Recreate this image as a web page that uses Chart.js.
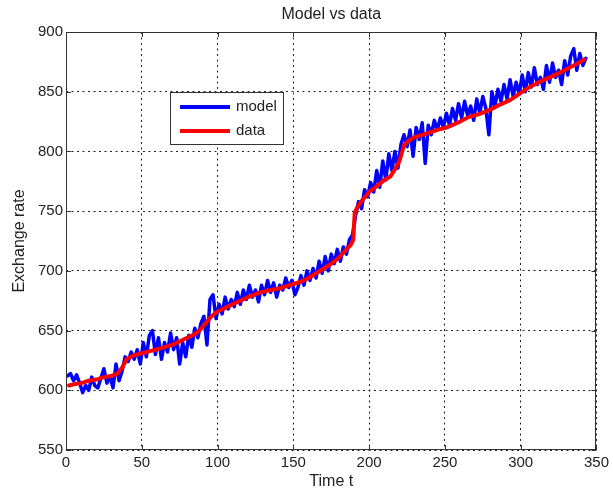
<!DOCTYPE html>
<html>
<head>
<meta charset="utf-8">
<script src="https://cdn.jsdelivr.net/npm/chart.js@4"></script>
<style>
  html, body { margin: 0; padding: 0; background: #fff; }
  #wrap { width: 613px; height: 495px; }
</style>
</head>
<body>
<div id="wrap"><canvas id="myChart" width="613" height="495"></canvas></div>
<script>
const TITLE = 'Model vs data';
const X_LABEL = 'Time t';
const Y_LABEL = 'Exchange rate';
const xTicks = [0, 50, 100, 150, 200, 250, 300, 350];
const yTicks = [550, 600, 650, 700, 750, 800, 850, 900];
const seriesNames = ['model', 'data'];

// model output, every 2 time steps
const tModel = [1, 3, 5, 7, 9, 11, 13, 15, 17, 19, 21, 23, 25, 27, 29, 31, 33, 35, 37, 39,
  41, 43, 45, 47, 49, 51, 53, 55, 57, 59, 61, 63, 65, 67, 69, 71, 73, 75, 77, 79,
  81, 83, 85, 87, 89, 91, 93, 95, 97, 99, 101, 103, 105, 107, 109, 111, 113, 115, 117, 119,
  121, 123, 125, 127, 129, 131, 133, 135, 137, 139, 141, 143, 145, 147, 149, 151, 153, 155, 157, 159,
  161, 163, 165, 167, 169, 171, 173, 175, 177, 179, 181, 183, 185, 187, 189, 191, 193, 195, 197, 199,
  201, 203, 205, 207, 209, 211, 213, 215, 217, 219, 221, 223, 225, 227, 229, 231, 233, 235, 237, 239,
  241, 243, 245, 247, 249, 251, 253, 255, 257, 259, 261, 263, 265, 267, 269, 271, 273, 275, 277, 279,
  281, 283, 285, 287, 289, 291, 293, 295, 297, 299, 301, 303, 305, 307, 309, 311, 313, 315, 317, 319,
  321, 323, 325, 327, 329, 331, 333, 335, 337, 339, 341, 343];
const modelValues = [612, 614, 608, 613, 606, 598, 604, 600, 611, 604, 602, 610, 618, 606, 612, 602, 622, 608, 616, 628,
  624, 632, 626, 634, 622, 640, 628, 646, 650, 630, 644, 626, 640, 632, 648, 634, 644, 622, 640, 628,
  646, 636, 652, 644, 656, 662, 638, 676, 680, 660, 672, 664, 678, 668, 676, 670, 682, 672, 684, 676,
  688, 678, 684, 674, 688, 680, 692, 682, 690, 678, 688, 684, 694, 686, 692, 680, 686, 696, 688, 700,
  692, 702, 694, 708, 698, 712, 700, 714, 706, 718, 708, 720, 714, 726, 730, 746, 758, 752, 768, 762,
  774, 766, 784, 770, 792, 776, 798, 784, 800, 786, 806, 814, 804, 818, 796, 820, 810, 824, 790, 822,
  814, 826, 818, 828, 820, 832, 822, 836, 826, 840, 828, 842, 830, 838, 826, 844, 832, 846, 836, 814,
  850, 838, 852, 842, 856, 844, 860, 846, 858, 848, 864, 850, 866, 854, 870, 856, 862, 852, 872, 858,
  874, 862, 868, 856, 876, 864, 880, 886, 868, 882, 872, 878];

// observed exchange rate
const tData = [2, 5, 10, 15, 20, 25, 30, 34, 37, 40, 44, 50, 56, 62, 70, 75, 80, 85, 88, 92,
  96, 100, 105, 110, 115, 120, 128, 135, 140, 145, 150, 155, 160, 165, 170, 175, 180, 185, 188, 189.5,
  190.5, 193, 196, 200, 205, 210, 214, 217, 220, 223, 226, 230, 238, 245, 251, 260, 266, 272, 280, 286,
  293, 300, 306, 312, 319, 326, 332, 338, 342];
const dataValues = [604, 605, 606, 608, 609, 611, 612, 614, 619, 626, 629, 631, 633, 635, 638, 641, 644, 647, 650, 656,
  662, 666, 669, 672, 675, 678, 682, 684, 685, 687, 689, 691, 694, 698, 702, 706, 711, 718, 722, 726,
  749, 755, 760, 766, 771, 776, 779, 785, 792, 805, 809, 812, 815, 818, 820, 825, 829, 831, 835, 839,
  843, 849, 854, 858, 862, 866, 870, 874, 877];

const colors = ['#0000ff', '#ff0000'];
const FONT = '"Liberation Sans", Arial, sans-serif';

// frame, inward tick marks, title and the boxed legend inside the axes
const matlabAxes = {
  id: 'matlabAxes',
  afterDraw(chart) {
    const { ctx, chartArea: a, scales } = chart;
    ctx.save();
    ctx.strokeStyle = '#333';
    ctx.lineWidth = 1;
    ctx.setLineDash([]);
    ctx.strokeRect(Math.round(a.left) + 0.5, Math.round(a.top) + 0.5,
      Math.round(a.right - a.left) - 1, Math.round(a.bottom - a.top) - 1);

    ctx.beginPath();
    xTicks.forEach(v => {
      const px = Math.round(scales.x.getPixelForValue(v)) + 0.5;
      ctx.moveTo(px, a.bottom); ctx.lineTo(px, a.bottom - 5);
      ctx.moveTo(px, a.top); ctx.lineTo(px, a.top + 5);
    });
    yTicks.forEach(v => {
      const py = Math.round(scales.y.getPixelForValue(v)) + 0.5;
      ctx.moveTo(a.left, py); ctx.lineTo(a.left + 5, py);
      ctx.moveTo(a.right, py); ctx.lineTo(a.right - 5, py);
    });
    ctx.stroke();

    ctx.fillStyle = '#222';
    ctx.font = '16px ' + FONT;
    ctx.textAlign = 'center';
    ctx.textBaseline = 'middle';
    ctx.fillText(TITLE, (a.left + a.right) / 2, 15);

    // legend
    const lx = 170.5, ly = 92.5, lw = 113, lh = 52;
    ctx.fillStyle = '#fff';
    ctx.fillRect(lx, ly, lw, lh);
    ctx.strokeStyle = '#333';
    ctx.strokeRect(lx, ly, lw, lh);
    ctx.font = '15px ' + FONT;
    ctx.textAlign = 'left';
    seriesNames.forEach((name, i) => {
      const y = 107 + i * 24;
      ctx.strokeStyle = colors[i];
      ctx.lineWidth = 4;
      ctx.beginPath();
      ctx.moveTo(180, y); ctx.lineTo(230, y);
      ctx.stroke();
      ctx.fillStyle = '#222';
      ctx.fillText(name, 236, y);
    });
    ctx.restore();
  }
};

const toPoints = (xs, ys) => xs.map((x, i) => ({ x: x, y: ys[i] }));

const ctx = document.getElementById('myChart').getContext('2d');
const myChart = new Chart(ctx, {
  type: 'line',
  data: {
    datasets: [
      {
        label: seriesNames[0],
        data: toPoints(tModel, modelValues),
        borderColor: colors[0],
        borderWidth: 3.5,
        order: 1
      },
      {
        label: seriesNames[1],
        data: toPoints(tData, dataValues),
        borderColor: colors[1],
        borderWidth: 4,
        order: 0
      }
    ]
  },
  options: {
    responsive: false,
    animation: false,
    devicePixelRatio: 1,
    layout: { padding: { top: 32, right: 16, left: 0, bottom: 0 } },
    elements: {
      point: { radius: 0 },
      line: { tension: 0, borderJoinStyle: 'round', borderCapStyle: 'round' }
    },
    plugins: {
      legend: { display: false },
      title: { display: false },
      tooltip: { enabled: false }
    },
    scales: {
      x: {
        type: 'linear',
        min: 0, max: 350,
        afterBuildTicks: s => { s.ticks = xTicks.map(v => ({ value: v })); },
        afterFit: s => { s.height = 45; },
        grid: { color: '#222', lineWidth: 1, drawTicks: false },
        border: { display: false, dash: [2, 3.5] },
        ticks: { padding: 4, color: '#222', font: { size: 15, family: FONT } },
        title: { display: true, text: X_LABEL, color: '#222', font: { size: 16, family: FONT }, padding: { top: 0, bottom: 4 } }
      },
      y: {
        min: 550, max: 900,
        afterBuildTicks: s => { s.ticks = yTicks.map(v => ({ value: v })); },
        afterFit: s => { s.width = 66; },
        grid: { color: '#222', lineWidth: 1, drawTicks: false },
        border: { display: false, dash: [2, 3.5] },
        ticks: { padding: 3, color: '#222', font: { size: 15, family: FONT } },
        title: { display: true, text: Y_LABEL, color: '#222', font: { size: 16, family: FONT }, padding: { top: 10, bottom: 0 } }
      }
    }
  },
  plugins: [matlabAxes]
});
</script>
</body>
</html>
